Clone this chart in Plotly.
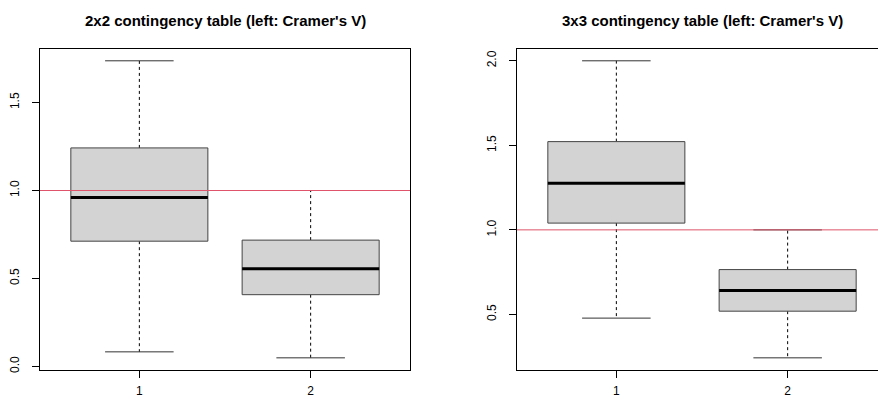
import plotly.graph_objects as go

W, H = 878, 402

# ---- data ----
positions = [1, 2]
tick_labels = ["1", "2"]

t2_lower = [0.083, 0.049]
t2_q1 = [0.712, 0.408]
t2_med = [0.960, 0.555]
t2_q3 = [1.242, 0.718]
t2_upper = [1.737, 1.000]

t3_lower = [0.478, 0.243]
t3_q1 = [1.040, 0.519]
t3_med = [1.276, 0.642]
t3_q3 = [1.522, 0.765]
t3_upper = [2.000, 1.000]

ref_value = 1.0
titles = ["2x2 contingency table (left: Cramer's V)",
          "3x3 contingency table (left: Cramer's V)"]

FONT = "Liberation Sans, Arial, Helvetica, sans-serif"
BOXW = 0.4   # half width
CAPW = 0.2   # half cap width

fig = go.Figure()


def add_panel(xa, ya, lower, q1, med, q3, upper):
    for p, lo, a, m, b, up in zip(positions, lower, q1, med, q3, upper):
        # whiskers (dashed)
        fig.add_trace(go.Scatter(x=[p, p, None, p, p], y=[b, up, None, a, lo],
                                 mode="lines", line=dict(color="black", width=1, dash="3px,3px"),
                                 xaxis=xa, yaxis=ya, hoverinfo="skip", showlegend=False))
        # caps
        fig.add_trace(go.Scatter(x=[p - CAPW, p + CAPW, None, p - CAPW, p + CAPW],
                                 y=[up, up, None, lo, lo],
                                 mode="lines", line=dict(color="#333333", width=1),
                                 xaxis=xa, yaxis=ya, hoverinfo="skip", showlegend=False))
        # box
        fig.add_trace(go.Scatter(x=[p - BOXW, p + BOXW, p + BOXW, p - BOXW, p - BOXW],
                                 y=[a, a, b, b, a], mode="lines", fill="toself",
                                 fillcolor="#D3D3D3", line=dict(color="#444444", width=1),
                                 xaxis=xa, yaxis=ya, hoverinfo="skip", showlegend=False))
        # median
        fig.add_trace(go.Scatter(x=[p - BOXW, p + BOXW], y=[m, m], mode="lines",
                                 line=dict(color="black", width=3),
                                 xaxis=xa, yaxis=ya, hoverinfo="skip", showlegend=False))


add_panel("x", "y", t2_lower, t2_q1, t2_med, t2_q3, t2_upper)
add_panel("x2", "y2", t3_lower, t3_q1, t3_med, t3_q3, t3_upper)


def yrange(lo, hi):
    d = (hi - lo) * 0.04
    return [lo - d, hi + d]


ybot = (H - 372.5) / H
ytop = (H - 49.3) / H
pxu = 171.3  # px per x unit
x1_left = 40.0
x2_left = 517.0
x1_right = x1_left + 2.16 * pxu
x2_range = [0.42, 0.42 + (W - x2_left) / pxu]

axis_common = dict(showline=True, linecolor="black", linewidth=1, ticks="outside",
                   ticklen=7, tickcolor="black", showgrid=False, zeroline=False,
                   tickfont=dict(family=FONT, size=12, color="black"))

fig.update_layout(
    width=W, height=H, margin=dict(l=0, r=0, t=0, b=0),
    paper_bgcolor="white", plot_bgcolor="white",
    font=dict(family=FONT, color="black"),
    xaxis=dict(domain=[x1_left / W, x1_right / W], range=[0.42, 2.58],
               tickvals=positions, ticktext=tick_labels, mirror=True, anchor="y",
               ticklabelstandoff=3, **axis_common),
    yaxis=dict(domain=[ybot, ytop], range=yrange(min(t2_lower), max(t2_upper)),
               tickvals=[0, 0.5, 1.0, 1.5], ticktext=["0.0", "0.5", "1.0", "1.5"],
               tickangle=-90, mirror=True, anchor="x", ticklabelstandoff=8, **axis_common),
    xaxis2=dict(domain=[x2_left / W, 1.0], range=x2_range,
                tickvals=positions, ticktext=tick_labels, mirror=True, anchor="y2",
                ticklabelstandoff=3, **axis_common),
    yaxis2=dict(domain=[ybot, ytop], range=yrange(min(t3_lower), max(t3_upper)),
                tickvals=[0.5, 1.0, 1.5, 2.0], ticktext=["0.5", "1.0", "1.5", "2.0"],
                tickangle=-90, mirror=False, anchor="x2", ticklabelstandoff=8, **axis_common),
)

for xa, ya in [("x", "y"), ("x2", "y2")]:
    fig.add_shape(type="line", xref=f"{xa} domain", yref=ya, x0=0, x1=1,
                  y0=ref_value, y1=ref_value, line=dict(color="#DF536B", width=1))

centers = [(x1_left + x1_right) / 2 / W, (x2_left + x2_left + 2.16 * pxu) / 2 / W]
for t, c in zip(titles, centers):
    fig.add_annotation(text=f"<b>{t}</b>", x=c, y=(H - 21) / H, xref="paper", yref="paper",
                       showarrow=False, xanchor="center", yanchor="middle",
                       font=dict(family=FONT, size=15, color="black"))

fig.write_html("out.html", config={"displayModeBar": False, "staticPlot": True},
               post_script="document.body.style.margin='0';document.body.style.overflow='hidden';")
